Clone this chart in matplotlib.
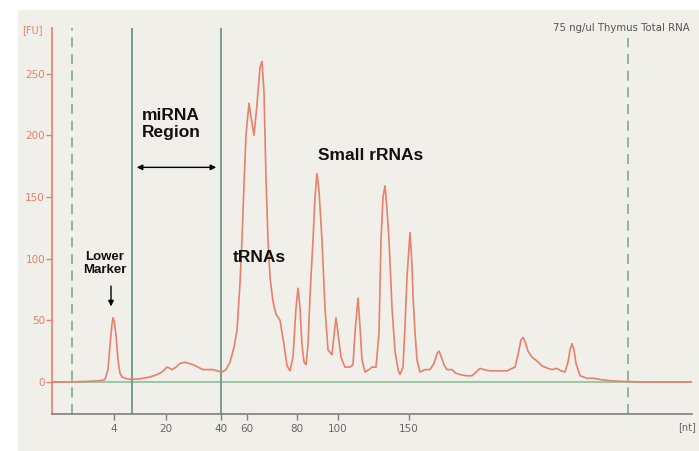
import matplotlib.pyplot as plt
from matplotlib.patches import Rectangle

# Electropherogram trace: migration position (arbitrary units) vs fluorescence [FU]
trace_pos = [52, 70, 90, 100, 105, 108, 110, 112, 113, 114, 116, 118, 120, 122, 127,
             132, 140, 150, 157, 162, 167, 170, 172, 176, 180, 185, 189, 193, 198, 203,
             208, 213, 217, 222, 226, 230, 234, 237, 240, 242, 244, 246, 249, 251, 254,
             257, 260, 262, 264, 265, 266, 268, 270, 273, 276, 280, 284, 287, 290, 293,
             296, 298, 300, 302, 304, 306, 308, 310, 313, 315, 317, 319, 322, 325, 328,
             332, 334, 336, 338, 341, 345, 350, 353, 355, 358, 360, 362, 365, 369, 372,
             376, 379, 381, 383, 385, 387, 389, 392, 395, 398, 400, 403, 405, 407, 410,
             412, 413, 415, 417, 420, 425, 430, 434, 437, 439, 441, 444, 447, 452, 456,
             460, 466, 472, 476, 480, 484, 490, 498, 507, 512, 515, 518, 521, 523, 525,
             528, 532, 537, 542, 548, 552, 557, 561, 565, 568, 570, 572, 574, 576, 580,
             587, 593, 600, 610, 620, 640, 660, 692]
trace_fu = [0, 0, 0.5, 1, 2, 10, 30, 47, 52, 50, 38, 18, 7, 4, 2.5,
            2, 2.5, 4, 6, 8, 12, 11, 10, 12, 15, 16, 15, 14, 12, 10,
            10, 10, 9, 8, 10, 16, 28, 42, 80, 115, 160, 200, 226, 215, 200,
            225, 255, 260, 235, 200, 165, 115, 85, 65, 55, 50, 30, 13, 9, 20,
            60, 76, 60, 30, 16, 14, 30, 70, 115, 150, 169, 155, 115, 60, 26,
            22, 38, 52, 40, 20, 12, 12, 14, 40, 68, 45, 18, 8, 10, 12,
            12, 40, 115, 150, 159, 140, 115, 60, 25, 10, 6, 12, 45, 85, 121,
            95, 70, 40, 18, 8, 10, 10, 15, 23, 25, 21, 14, 10, 10, 7,
            6, 5, 5, 8, 11, 10, 9, 9, 9, 11, 12, 22, 34, 36, 33,
            25, 20, 17, 13, 11, 10, 11, 9, 8, 16, 26, 31, 26, 15, 5,
            3, 3, 2, 1, 0.5, 0, 0, 0]

# ladder positions and their sizes in nt
ladder_pos = [114, 166, 221, 247, 297, 338, 409]
ladder_nt = ["4", "20", "40", "60", "80", "100", "150"]

# region borders
region_solid = [132, 221]
region_dashed = [72, 628]
dashed_top = [287, 279]

fu_ticks = [0, 50, 100, 150, 200, 250]

red = "#e8806a"
green = "#6f958a"

fig = plt.figure(figsize=(6.99, 4.51), dpi=100)
fig.patch.set_facecolor("white")
fig.patches.append(Rectangle((18 / 699, 0), 1, 1 - 10 / 451, transform=fig.transFigure,
                             facecolor="#f1efe9", edgecolor="none", zorder=-10))

ax = fig.add_axes([52 / 699, 1 - 414 / 451, (692 - 52) / 699, (414 - 28) / 451])
ax.set_facecolor("none")
ax.set_xlim(52, 692)
ax.set_ylim(-26, 287)

# baseline
ax.axhline(0, color="#8cbf98", lw=1.2, zorder=1)

for x in region_solid:
    ax.axvline(x, color=green, lw=1.3, zorder=1)
for x, top in zip(region_dashed, dashed_top):
    ax.plot([x, x], [-26, top], color="#7fa99a", lw=1.2, dashes=(6, 4), zorder=1)

ax.plot(trace_pos, trace_fu, color=red, lw=1.2, zorder=3)

for s in ["top", "right"]:
    ax.spines[s].set_visible(False)
ax.spines["left"].set_color(red)
ax.spines["left"].set_linewidth(1.2)
ax.spines["bottom"].set_color("#7f7f7f")
ax.spines["bottom"].set_linewidth(1.2)

ax.set_yticks(fu_ticks)
ax.tick_params(axis="y", colors=red, labelsize=7.5, length=4, width=1, pad=1)
ax.set_xticks(ladder_pos)
ax.set_xticklabels(ladder_nt)
ax.tick_params(axis="x", colors="#7f7f7f", labelcolor="#666666", labelsize=7.5,
               length=4, width=1, pad=3)

bold = dict(fontfamily="Liberation Sans", fontweight="bold", color="#111111")
ax.text(105, 96, "Lower\nMarker", ha="center", va="center", fontsize=9.5,
        linespacing=1.2, **bold)
ax.annotate("", xy=(111, 59), xytext=(111, 80),
            arrowprops=dict(arrowstyle="-|>", color="black", lw=1, mutation_scale=8))
ax.text(142, 209, "miRNA\nRegion", ha="left", va="center", fontsize=12.5,
        linespacing=1.2, **bold)
ax.annotate("", xy=(134, 174), xytext=(219, 174),
            arrowprops=dict(arrowstyle="<|-|>", color="black", lw=1, mutation_scale=8))
ax.text(233, 101, "tRNAs", ha="left", va="center", fontsize=12.5, **bold)
ax.text(318, 184, "Small rRNAs", ha="left", va="center", fontsize=12.5, **bold)

fig.text(690 / 699, 1 - 28 / 451, "75 ng/ul Thymus Total RNA", ha="right", va="center",
         fontsize=7.3, color="#555555")
fig.text(22 / 699, 1 - 30 / 451, "[FU]", ha="left", va="center", fontsize=7, color=red)
fig.text(696 / 699, 1 - 427 / 451, "[nt]", ha="right", va="center", fontsize=7,
         color="#666666")

fig.savefig("out.png", dpi=100)
